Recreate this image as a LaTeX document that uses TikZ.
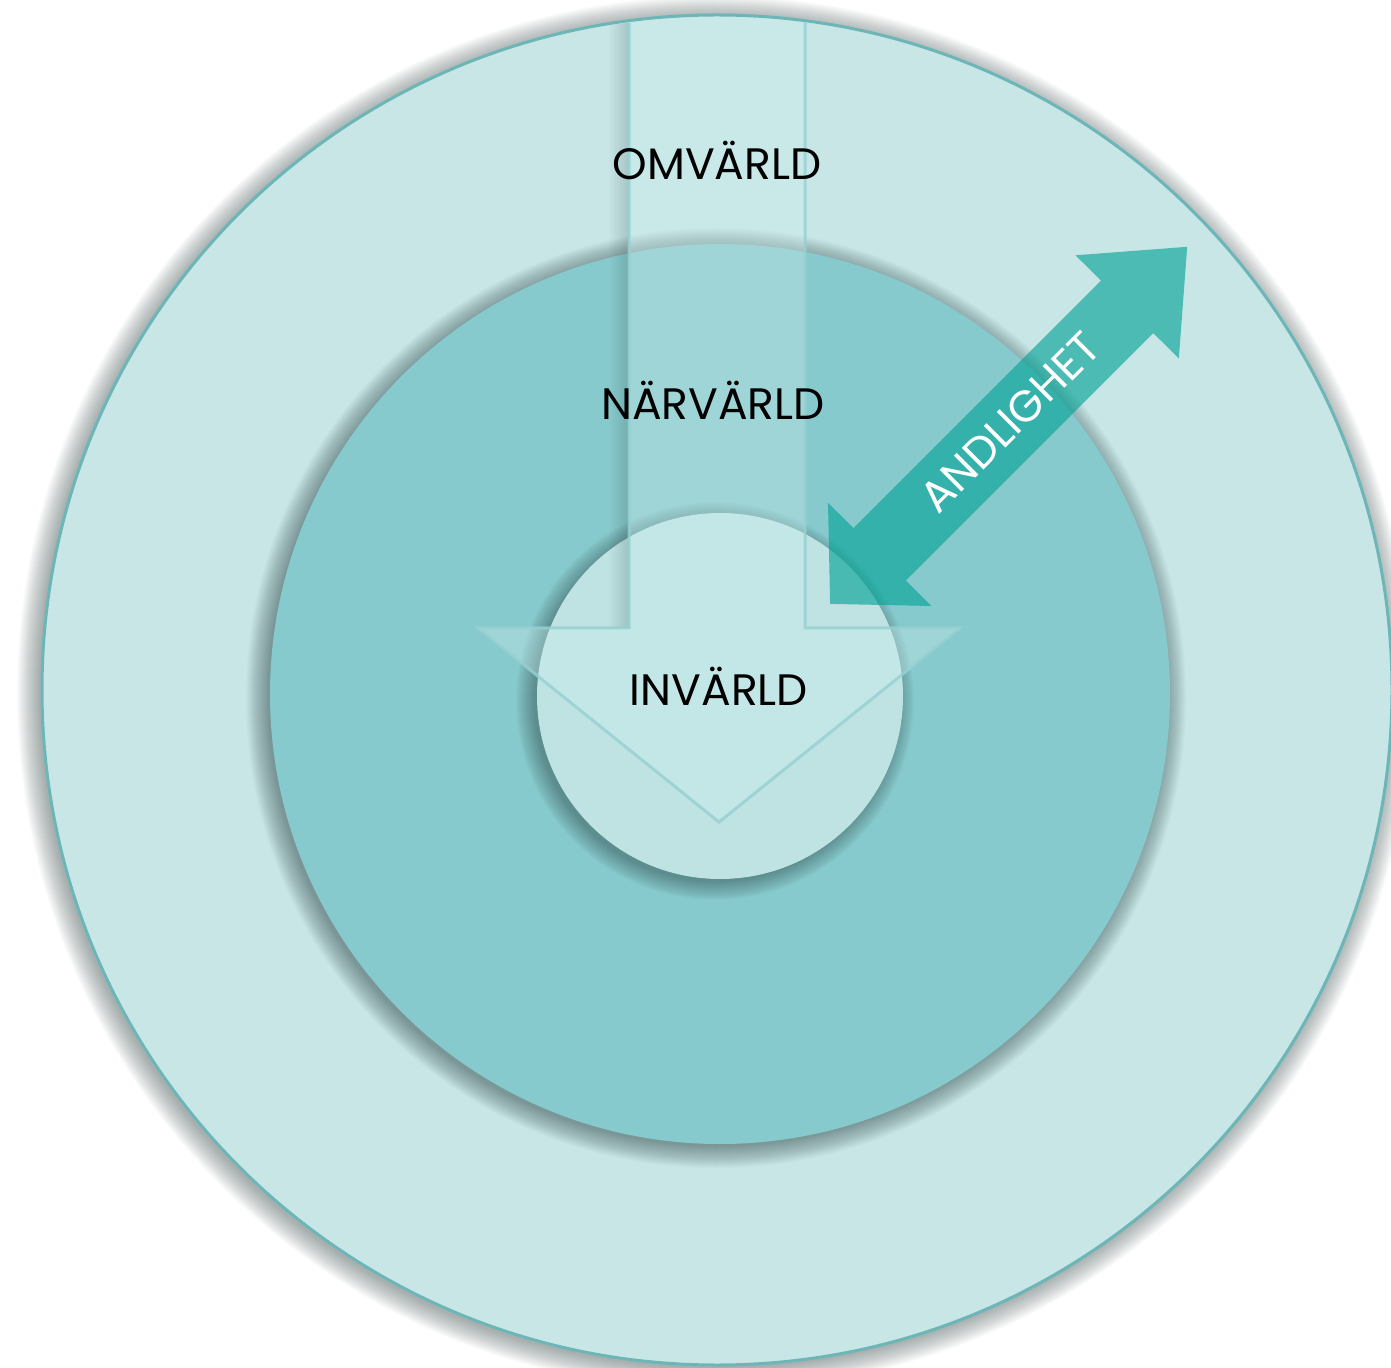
\documentclass[tikz,border=0pt]{standalone}
\usepackage{fontspec}
\setmainfont{Poppins}
\usetikzlibrary{fadings}
\definecolor{outerfill}{RGB}{200,230,230}
\definecolor{outerline}{RGB}{108,182,184}
\definecolor{midfill}{RGB}{135,202,205}
\definecolor{innerfill}{RGB}{191,227,227}
\definecolor{arrowteal}{RGB}{0,162,149}
\definecolor{bigarrowfill}{RGB}{205,236,236}
\definecolor{bigarrowline}{RGB}{150,208,210}
\definecolor{shadowcol}{RGB}{40,60,60}
\begin{document}
\begin{tikzpicture}[x=0.5pt,y=-0.5pt,
  disc/.style={circle, inner sep=0pt},
  label/.style={font=\fontsize{22}{26}\selectfont, text=black, inner sep=0pt}]
\useasboundingbox (0,0) rectangle (1391,1368);
\fill[white] (0,0) rectangle (1391,1368);
% rings, each with a soft shadow built from stacked translucent discs
\foreach \k in {0,...,22}{\fill[shadowcol, opacity=0.02] (714,693) circle ({675+\k});}
\node[disc, fill=outerfill, draw=outerline, line width=1.5pt, minimum size=675pt] (outer) at (717,690) {};
\foreach \k in {0,...,22}{\fill[shadowcol, opacity=0.024] (716,698) circle ({448+\k});}
\node[disc, fill=midfill, minimum size=450pt] (middle) at (720,694) {};
\foreach \k in {0,...,18}{\fill[shadowcol, opacity=0.022] (715,701) circle ({181+\k});}
\node[disc, fill=innerfill, minimum size=183pt] (inner) at (720,696) {};
% big translucent down arrow
\begin{scope}
  \clip (717,690) circle (673);
  \fill[shadowcol, opacity=0.2, path fading=west] (608,0) rectangle (629,628);
  \draw[fill=bigarrowfill, fill opacity=0.35, draw=bigarrowline, draw opacity=0.8, line width=1.5pt, line join=miter]
    (629,0) -- (629,628) -- (478,628) -- (719,822) -- (960,628) -- (805,628) -- (805,0) -- cycle;
\end{scope}
% double arrow ANDLIGHET
\fill[arrowteal, opacity=0.62]
  (830.1,603.9) -- (828.0,502.8) -- (853.5,528.2) -- (1101.0,280.7) -- (1075.5,255.3)
  -- (1187.2,246.8) -- (1178.8,358.5) -- (1153.3,333.1) -- (905.8,580.5) -- (931.3,606.0) -- cycle;
% labels
\node[label] (omv) at (717,160) {OMVÄRLD};
\node[label] (narv) at (713,400) {NÄRVÄRLD};
\node[label] (inv) at (719,686) {INVÄRLD};
\node[label, text=white, rotate=45] (andl) at (1010,422) {ANDLIGHET};
\end{tikzpicture}
\end{document}
